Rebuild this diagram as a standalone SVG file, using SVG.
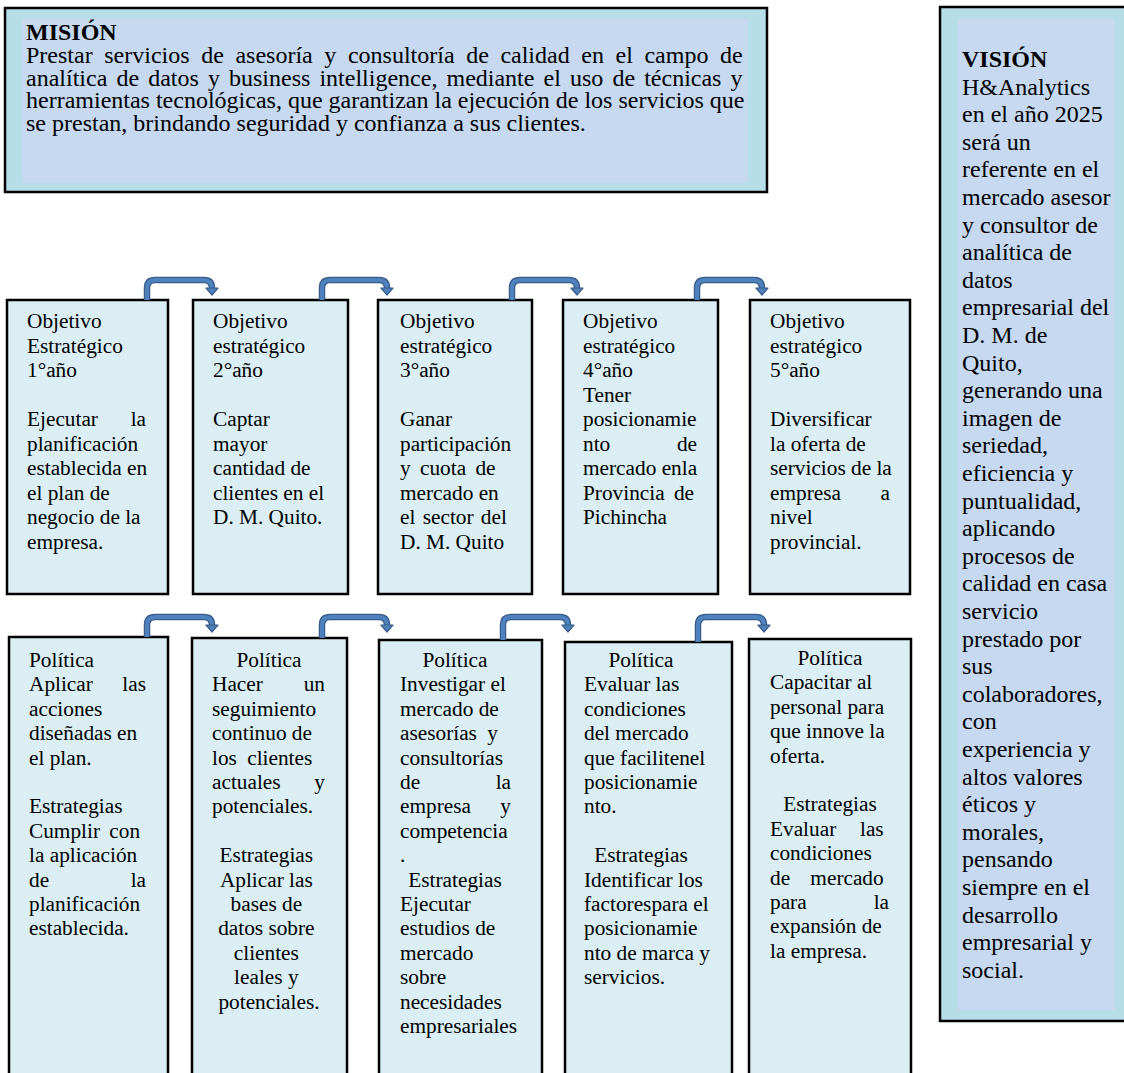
<svg xmlns="http://www.w3.org/2000/svg" width="1124" height="1073" viewBox="0 0 1124 1073">
<style>
text{font-family:"Liberation Serif","Times New Roman",serif;fill:#000}
.t{font-size:21.3px}
.tv{font-size:24px}
.b{font-weight:bold}
.e{text-anchor:end}
.m{text-anchor:middle}
.box{fill:#DAEEF3;stroke:#000;stroke-width:2.5}
.outer{fill:#B7DDE8;stroke:#000;stroke-width:2.5}
.inner{fill:#C6D9F1}
.co{fill:none;stroke:#385D8A;stroke-width:6.5;stroke-linejoin:round}
.ci{fill:none;stroke:#4F81BD;stroke-width:4;stroke-linejoin:round}
.ah{fill:#4F81BD;stroke:#385D8A;stroke-width:1.2;stroke-linejoin:round}
</style>

<g id="mision">
<rect class="outer" x="5" y="8" width="762" height="184"/>
<rect class="inner" x="22" y="19" width="726" height="164"/>
<text class="tv b" x="26" y="40">MISIÓN</text>
<text class="tv" x="26" y="63" word-spacing="5.6">Prestar servicios de asesoría y consultoría de calidad en el campo de</text>
<text class="tv" x="26" y="85.5" word-spacing="3.1">analítica de datos y business intelligence, mediante el uso de técnicas y</text>
<text class="tv" x="26" y="108">herramientas tecnológicas, que garantizan la ejecución de los servicios que</text>
<text class="tv" x="26" y="130.5">se prestan, brindando seguridad y confianza a sus clientes.</text>
</g>

<g id="vision">
<rect class="outer" x="940" y="7" width="200" height="1014"/>
<rect class="inner" x="958" y="19" width="157" height="991"/>
<text class="tv b" x="962" y="67">VISIÓN</text>
<text class="tv" x="962">
<tspan x="962" y="94.6">H&amp;Analytics</tspan>
<tspan x="962" y="122.2">en el año 2025</tspan>
<tspan x="962" y="149.8">será un</tspan>
<tspan x="962" y="177.4">referente en el</tspan>
<tspan x="962" y="205">mercado asesor</tspan>
<tspan x="962" y="232.6">y consultor de</tspan>
<tspan x="962" y="260.2">analítica de</tspan>
<tspan x="962" y="287.8">datos</tspan>
<tspan x="962" y="315.4">empresarial del</tspan>
<tspan x="962" y="343">D. M. de</tspan>
<tspan x="962" y="370.6">Quito,</tspan>
<tspan x="962" y="398.2">generando una</tspan>
<tspan x="962" y="425.8">imagen de</tspan>
<tspan x="962" y="453.4">seriedad,</tspan>
<tspan x="962" y="481">eficiencia y</tspan>
<tspan x="962" y="508.6">puntualidad,</tspan>
<tspan x="962" y="536.2">aplicando</tspan>
<tspan x="962" y="563.8">procesos de</tspan>
<tspan x="962" y="591.4">calidad en casa</tspan>
<tspan x="962" y="619">servicio</tspan>
<tspan x="962" y="646.6">prestado por</tspan>
<tspan x="962" y="674.2">sus</tspan>
<tspan x="962" y="701.8">colaboradores,</tspan>
<tspan x="962" y="729.4">con</tspan>
<tspan x="962" y="757">experiencia y</tspan>
<tspan x="962" y="784.6">altos valores</tspan>
<tspan x="962" y="812.2">éticos y</tspan>
<tspan x="962" y="839.8">morales,</tspan>
<tspan x="962" y="867.4">pensando</tspan>
<tspan x="962" y="895">siempre en el</tspan>
<tspan x="962" y="922.6">desarrollo</tspan>
<tspan x="962" y="950.2">empresarial y</tspan>
<tspan x="962" y="977.8">social.</tspan>
</text>
</g>

<g id="obj1">
<rect class="box" x="7" y="300" width="161" height="294"/>
<text class="t">
<tspan x="27" y="328">Objetivo</tspan>
<tspan x="27" y="352.5">Estratégico</tspan>
<tspan x="27" y="377">1°año</tspan>
<tspan x="27" y="426">Ejecutar</tspan>
<tspan x="27" y="450.5">planificación</tspan>
<tspan x="27" y="475">establecida en</tspan>
<tspan x="27" y="499.5">el plan de</tspan>
<tspan x="27" y="524">negocio de la</tspan>
<tspan x="27" y="548.5">empresa.</tspan>
</text>
<text class="t e" x="146" y="426">la</text>
</g>

<g id="obj2">
<rect class="box" x="193" y="300" width="155" height="294"/>
<text class="t">
<tspan x="213" y="328">Objetivo</tspan>
<tspan x="213" y="352.5">estratégico</tspan>
<tspan x="213" y="377">2°año</tspan>
<tspan x="213" y="426">Captar</tspan>
<tspan x="213" y="450.5">mayor</tspan>
<tspan x="213" y="475">cantidad de</tspan>
<tspan x="213" y="499.5">clientes en el</tspan>
<tspan x="213" y="524">D. M. Quito.</tspan>
</text>
</g>

<g id="obj3">
<rect class="box" x="378" y="300" width="154" height="294"/>
<text class="t">
<tspan x="400" y="328">Objetivo</tspan>
<tspan x="400" y="352.5">estratégico</tspan>
<tspan x="400" y="377">3°año</tspan>
<tspan x="400" y="426">Ganar</tspan>
<tspan x="400" y="450.5">participación</tspan>
<tspan x="400" y="475" word-spacing="4">y cuota de</tspan>
<tspan x="400" y="499.5">mercado en</tspan>
<tspan x="400" y="524" word-spacing="2">el sector del</tspan>
<tspan x="400" y="548.5">D. M. Quito</tspan>
</text>
</g>

<g id="obj4">
<rect class="box" x="563" y="300" width="155" height="294"/>
<text class="t">
<tspan x="583" y="328">Objetivo</tspan>
<tspan x="583" y="352.5">estratégico</tspan>
<tspan x="583" y="377">4°año</tspan>
<tspan x="583" y="401.5">Tener</tspan>
<tspan x="583" y="426">posicionamie</tspan>
<tspan x="583" y="450.5">nto</tspan>
<tspan x="583" y="475">mercado enla</tspan>
<tspan x="583" y="499.5" word-spacing="4">Provincia de</tspan>
<tspan x="583" y="524">Pichincha</tspan>
</text>
<text class="t e" x="697" y="450.5">de</text>
</g>

<g id="obj5">
<rect class="box" x="750" y="300" width="160" height="294"/>
<text class="t">
<tspan x="770" y="328">Objetivo</tspan>
<tspan x="770" y="352.5">estratégico</tspan>
<tspan x="770" y="377">5°año</tspan>
<tspan x="770" y="426">Diversificar</tspan>
<tspan x="770" y="450.5">la oferta de</tspan>
<tspan x="770" y="475">servicios de la</tspan>
<tspan x="770" y="499.5">empresa</tspan>
<tspan x="770" y="524">nivel</tspan>
<tspan x="770" y="548.5">provincial.</tspan>
</text>
<text class="t e" x="890" y="499.5">a</text>
</g>

<g id="pol1">
<rect class="box" x="9" y="637" width="159" height="460"/>
<text class="t">
<tspan x="29" y="667">Política</tspan>
<tspan x="29" y="691.4">Aplicar</tspan>
<tspan x="29" y="715.8">acciones</tspan>
<tspan x="29" y="740.2">diseñadas en</tspan>
<tspan x="29" y="764.6">el plan.</tspan>
<tspan x="29" y="813.4">Estrategias</tspan>
<tspan x="29" y="837.8" word-spacing="4">Cumplir con</tspan>
<tspan x="29" y="862.2">la aplicación</tspan>
<tspan x="29" y="886.6">de</tspan>
<tspan x="29" y="911">planificación</tspan>
<tspan x="29" y="935.4">establecida.</tspan>
</text>
<text class="t e" x="146" y="691.4">las</text>
<text class="t e" x="146" y="886.6">la</text>
</g>

<g id="pol2">
<rect class="box" x="192" y="638" width="155" height="460"/>
<text class="t m" x="269" y="667">Política</text>
<text class="t">
<tspan x="212" y="691.4">Hacer</tspan>
<tspan x="212" y="715.8">seguimiento</tspan>
<tspan x="212" y="740.2">continuo de</tspan>
<tspan x="212" y="764.6" word-spacing="5">los clientes</tspan>
<tspan x="212" y="789">actuales</tspan>
<tspan x="212" y="813.4">potenciales.</tspan>
</text>
<text class="t e" x="325" y="691.4">un</text>
<text class="t e" x="325" y="789">y</text>
<text class="t m" x="269">
<tspan x="269" y="862.2">Estrategias</tspan>
<tspan x="269" y="886.6">Aplicar las</tspan>
<tspan x="269" y="911">bases de</tspan>
<tspan x="269" y="935.4">datos sobre</tspan>
<tspan x="269" y="959.8">clientes</tspan>
<tspan x="269" y="984.2">leales y</tspan>
<tspan x="269" y="1008.6">potenciales.</tspan>
</text>
</g>

<g id="pol3">
<rect class="box" x="379" y="640" width="163" height="460"/>
<text class="t m" x="455" y="667">Política</text>
<text class="t">
<tspan x="400" y="691.4">Investigar el</tspan>
<tspan x="400" y="715.8">mercado de</tspan>
<tspan x="400" y="740.2" word-spacing="5">asesorías y</tspan>
<tspan x="400" y="764.6">consultorías</tspan>
<tspan x="400" y="789">de</tspan>
<tspan x="400" y="813.4">empresa</tspan>
<tspan x="400" y="837.8">competencia</tspan>
<tspan x="400" y="862.2">.</tspan>
<tspan x="400" y="911">Ejecutar</tspan>
<tspan x="400" y="935.4">estudios de</tspan>
<tspan x="400" y="959.8">mercado</tspan>
<tspan x="400" y="984.2">sobre</tspan>
<tspan x="400" y="1008.6">necesidades</tspan>
<tspan x="400" y="1033">empresariales</tspan>
</text>
<text class="t m" x="455" y="886.6">Estrategias</text>
<text class="t e" x="511" y="789">la</text>
<text class="t e" x="511" y="813.4">y</text>
</g>

<g id="pol4">
<rect class="box" x="565" y="642" width="167" height="460"/>
<text class="t m" x="641" y="667">Política</text>
<text class="t">
<tspan x="584" y="691.4">Evaluar las</tspan>
<tspan x="584" y="715.8">condiciones</tspan>
<tspan x="584" y="740.2">del mercado</tspan>
<tspan x="584" y="764.6">que facilitenel</tspan>
<tspan x="584" y="789">posicionamie</tspan>
<tspan x="584" y="813.4">nto.</tspan>
<tspan x="584" y="886.6">Identificar los</tspan>
<tspan x="584" y="911">factorespara el</tspan>
<tspan x="584" y="935.4">posicionamie</tspan>
<tspan x="584" y="959.8">nto de marca y</tspan>
<tspan x="584" y="984.2">servicios.</tspan>
</text>
<text class="t m" x="641" y="862.2">Estrategias</text>
</g>

<g id="pol5">
<rect class="box" x="749" y="639" width="162" height="460"/>
<text class="t m" x="830" y="665">Política</text>
<text class="t">
<tspan x="770" y="689.4">Capacitar al</tspan>
<tspan x="770" y="713.8">personal para</tspan>
<tspan x="770" y="738.2">que innove la</tspan>
<tspan x="770" y="762.6">oferta.</tspan>
<tspan x="770" y="835.8">Evaluar</tspan>
<tspan x="770" y="860.2">condiciones</tspan>
<tspan x="770" y="884.6">de</tspan>
<tspan x="770" y="909">para</tspan>
<tspan x="770" y="933.4">expansión de</tspan>
<tspan x="770" y="957.8">la empresa.</tspan>
</text>
<text class="t m" x="830" y="811.4">Estrategias</text>
<text class="t e">
<tspan x="889" y="835.8">las</tspan>
<tspan x="889" y="884.6">mercado</tspan>
<tspan x="889" y="909">la</tspan>
</text>
</g>

<g id="connectors">
<path class="co" d="M147,300 V288 Q147,280 155,280 H204 Q212,280 212,288 V289"/>
<path class="co" d="M322,300 V288 Q322,280 330,280 H379 Q387,280 387,288 V289"/>
<path class="co" d="M512,300 V288 Q512,280 520,280 H569 Q577,280 577,288 V289"/>
<path class="co" d="M697,300 V288 Q697,280 705,280 H754 Q762,280 762,288 V289"/>
<path class="co" d="M147,637 V625 Q147,617 155,617 H204 Q212,617 212,625 V626"/>
<path class="co" d="M322,638 V625 Q322,617 330,617 H379 Q387,617 387,625 V626"/>
<path class="co" d="M503,640 V625 Q503,617 511,617 H560 Q568,617 568,625 V626"/>
<path class="co" d="M698,642 V625 Q698,617 706,617 H756 Q764,617 764,625 V626"/>
<path class="ci" d="M147,300 V288 Q147,280 155,280 H204 Q212,280 212,288 V289"/>
<path class="ci" d="M322,300 V288 Q322,280 330,280 H379 Q387,280 387,288 V289"/>
<path class="ci" d="M512,300 V288 Q512,280 520,280 H569 Q577,280 577,288 V289"/>
<path class="ci" d="M697,300 V288 Q697,280 705,280 H754 Q762,280 762,288 V289"/>
<path class="ci" d="M147,637 V625 Q147,617 155,617 H204 Q212,617 212,625 V626"/>
<path class="ci" d="M322,638 V625 Q322,617 330,617 H379 Q387,617 387,625 V626"/>
<path class="ci" d="M503,640 V625 Q503,617 511,617 H560 Q568,617 568,625 V626"/>
<path class="ci" d="M698,642 V625 Q698,617 706,617 H756 Q764,617 764,625 V626"/>
<polygon class="ah" points="206,288 218,288 212,295"/>
<polygon class="ah" points="381,288 393,288 387,295"/>
<polygon class="ah" points="571,288 583,288 577,295"/>
<polygon class="ah" points="756,288 768,288 762,295"/>
<polygon class="ah" points="206,625 218,625 212,632"/>
<polygon class="ah" points="381,625 393,625 387,632"/>
<polygon class="ah" points="562,625 574,625 568,632"/>
<polygon class="ah" points="758,625 770,625 764,632"/>
</g>
</svg>
